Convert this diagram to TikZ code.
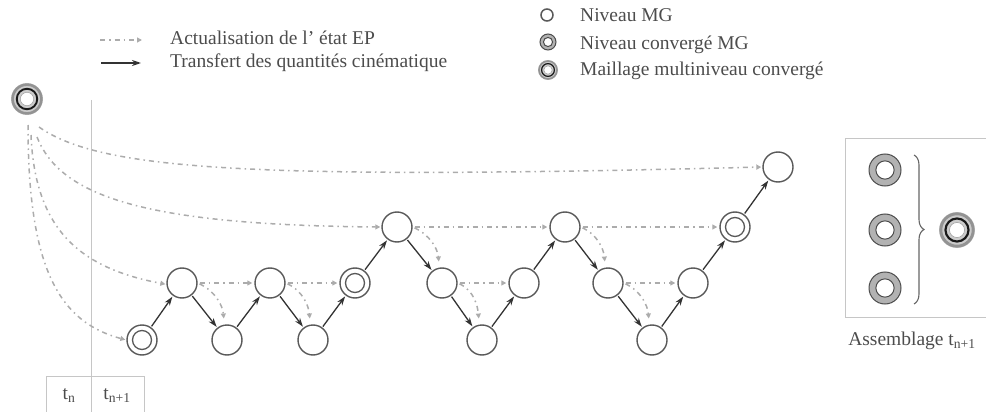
\documentclass[tikz,border=0pt]{standalone}
\usepackage{fontspec}
\setmainfont{Liberation Serif}
\usetikzlibrary{arrows.meta,decorations.pathreplacing}
\newcommand\msconv[2]{%
  \fill[gray!40] (#1) circle[radius=#2pt];
  \draw[gray!85,line width=0.16*#2pt] (#1) circle[radius=0.9*#2pt];
  \draw[black!90,line width=0.12*#2pt] (#1) circle[radius=0.64*#2pt];
  \fill[white] (#1) circle[radius=0.42*#2pt];
  \draw[gray!70,line width=0.6pt] (#1) circle[radius=0.42*#2pt];
}
\newcommand\msdbl[2]{%
  \fill[gray!60] (#1) circle[radius=#2pt];
  \draw[black!70,line width=1pt] (#1) circle[radius=#2pt];
  \fill[white] (#1) circle[radius=0.57*#2pt];
  \draw[black!70,line width=1pt] (#1) circle[radius=0.57*#2pt];
}
\begin{document}
\begin{tikzpicture}[x=1pt,y=-1pt,
  mg/.style={circle,draw=black!65,line width=1.4pt,minimum size=30pt,inner sep=0pt,fill=white},
  ghost/.style={circle,minimum size=#1,inner sep=0pt},
  solidarr/.style={draw=black!80,line width=1.3pt,-{Stealth[length=9pt,width=6pt]},shorten <=1pt,shorten >=1pt},
  dasharr/.style={draw=gray!65,line width=1.5pt,dash pattern=on 5pt off 4pt on 1.5pt off 4pt,-{Triangle[length=5pt,width=5pt]}},
  lbl/.style={font=\fontsize{19.5}{22}\selectfont,text=black!70,anchor=base west,inner sep=0pt},
  thinline/.style={draw=gray!45,line width=1pt}]
\useasboundingbox (0,0) rectangle (986,412);

% time axis
\draw[thinline] (91,100) -- (91,412);
\draw[thinline] (46,412) -- (46,376) -- (144,376) -- (144,412);
\node[lbl,anchor=base] (tn) at (69,399) {t\textsubscript{n}};
\node[lbl,anchor=base] (tn1) at (117,399) {t\textsubscript{n+1}};

% legend left
\coordinate (lg1a) at (100,40); \coordinate (lg1b) at (142,40);
\coordinate (lg2a) at (100,63); \coordinate (lg2b) at (142,63);
\draw[dasharr] (lg1a) -- (lg1b);
\draw[solidarr] (lg2a) -- (lg2b);
\node[lbl] (t1) at (170,45) {Actualisation de l' état EP};
\node[lbl] (t2) at (170,67) {Transfert des quantités cinématique};

% legend right
\node[circle,draw=black!65,line width=1.5pt,minimum size=12pt,inner sep=0pt] (l1) at (547,15) {};
\node[ghost=16pt] (l2) at (548,42) {}; \msdbl{l2}{8}
\node[ghost=20pt] (l3) at (548,70) {}; \msconv{l3}{10}
\node[lbl] (t3) at (580,22) {Niveau MG};
\node[lbl] (t4) at (580,50) {Niveau convergé MG};
\node[lbl] (t5) at (580,76) {Maillage multiniveau convergé};

% converged start node
\node[ghost=32pt] (c0) at (27,99) {}; \msconv{c0}{16}

% main graph
\node[mg] (a1) at (142,340) {};
\node[mg] (a2) at (182,283) {};
\node[mg] (a3) at (227,340) {};
\node[mg] (a4) at (270,283) {};
\node[mg] (a5) at (313,340) {};
\node[mg] (a6) at (355,283) {};
\node[mg] (a7) at (397,227) {};
\node[mg] (a8) at (442,283) {};
\node[mg] (a9) at (482,340) {};
\node[mg] (a10) at (524,283) {};
\node[mg] (a11) at (565,227) {};
\node[mg] (a12) at (608,283) {};
\node[mg] (a13) at (652,340) {};
\node[mg] (a14) at (693,283) {};
\node[mg] (a15) at (735,227) {};
\node[mg] (a16) at (778,167) {};
\foreach \n in {a1,a6,a15}{\draw[black!65,line width=1.3pt] (\n) circle[radius=9.5pt];}

% solid transfers
\foreach \s/\t in {a1/a2,a2/a3,a3/a4,a4/a5,a5/a6,a6/a7,a7/a8,a8/a9,a9/a10,a10/a11,a11/a12,a12/a13,a13/a14,a14/a15,a15/a16}
  {\draw[solidarr] (\s) -- (\t);}

% dashed horizontal updates
\foreach \s/\t in {a2/a4,a4/a6,a7/a11,a8/a10,a11/a15,a12/a14}
  {\draw[dasharr,shorten <=2pt,shorten >=2pt] (\s) -- (\t);}

% dashed curved updates (down)
\foreach \s/\t in {a2/a3,a4/a5,a7/a8,a8/a9,a11/a12,a12/a13}
  {\draw[dasharr,shorten <=2pt,shorten >=6pt] (\s.east) to[out=-25,in=95] (\t.100);}

% curves from converged start node
\coordinate (sA) at (28,125);
\coordinate (sB) at (31,135);
\coordinate (sC) at (37,137);
\coordinate (sD) at (39,127);
\draw[dasharr,shorten >=1pt] (sA) .. controls (28,270) and (60,322) .. (a1.west);
\draw[dasharr,shorten >=1pt] (sB) .. controls (35,230) and (80,268) .. (a2.185);
\draw[dasharr,shorten >=1pt] (sC) .. controls (60,195) and (140,225) .. (a7.west);
\draw[dasharr,shorten >=1pt] (sD) .. controls (100,170) and (250,180) .. (a16.west);

% assembly panel
\draw[thinline] (988,138) -- (845,138) -- (845,317) -- (988,317);
\node[ghost=32pt] (p1) at (885,170) {}; \msdbl{p1}{16}
\node[ghost=32pt] (p2) at (885,230) {}; \msdbl{p2}{16}
\node[ghost=32pt] (p3) at (885,288) {}; \msdbl{p3}{16}
\node[ghost=36pt] (pc) at (957,230) {}; \msconv{pc}{18}
\draw[black!60,line width=1.1pt,decorate,decoration={brace,amplitude=10pt}] (914,155) -- (914,304);
\node[lbl,anchor=base] (asm) at (912,345) {Assemblage t\textsubscript{n+1}};
\end{tikzpicture}
\end{document}
